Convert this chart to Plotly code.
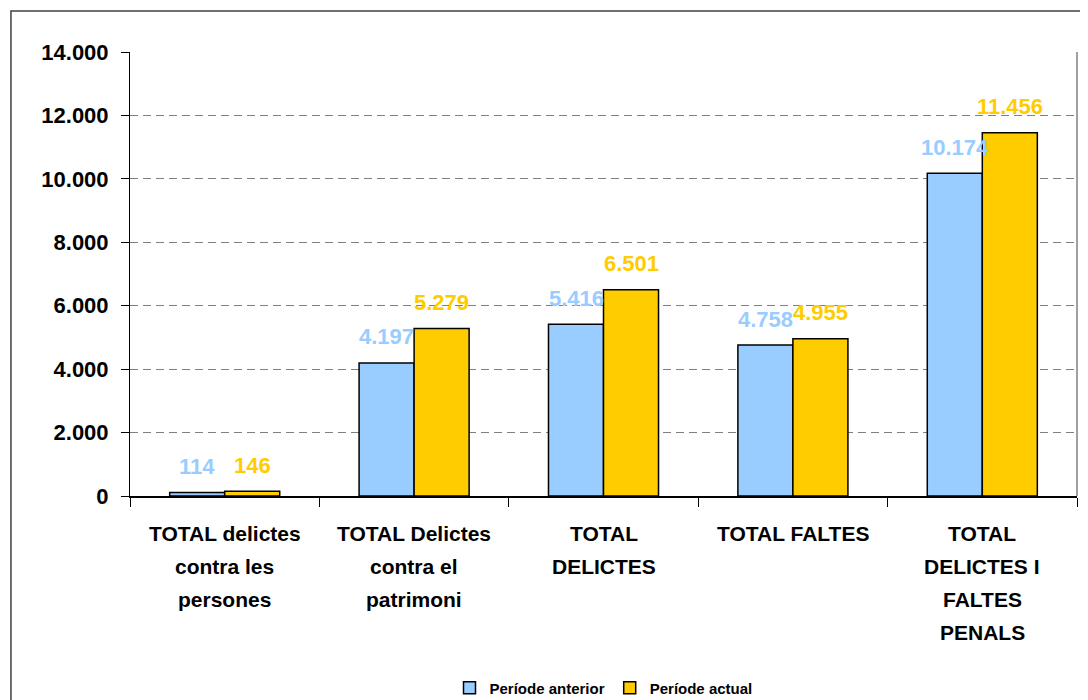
import plotly.graph_objects as go

categories = [
    "TOTAL delictes<br>contra les<br>persones",
    "TOTAL Delictes<br>contra el<br>patrimoni",
    "TOTAL<br>DELICTES",
    "TOTAL FALTES",
    "TOTAL<br>DELICTES I<br>FALTES<br>PENALS",
]
anterior = [114, 4197, 5416, 4758, 10174]
actual = [146, 5279, 6501, 4955, 11456]
series_names = ["Període anterior", "Període actual"]
y_ticks = [0, 2000, 4000, 6000, 8000, 10000, 12000, 14000]

BLUE = "#99CCFF"
GOLD = "#FFCC00"
FONT = "Liberation Sans, Arial, sans-serif"

fig = go.Figure()
for name, vals, col in [(series_names[0], anterior, BLUE), (series_names[1], actual, GOLD)]:
    fig.add_trace(go.Bar(
        name=name, x=categories, y=vals,
        marker=dict(color=col, line=dict(color="#000000", width=1.5)),
    ))

# data labels above bars
for vals, col, shift in [(anterior, BLUE, -27.5), (actual, GOLD, 27.5)]:
    for c, v in zip(categories, vals):
        fig.add_annotation(
            x=c, y=v, xref="x", yref="y", xshift=shift, yshift=26,
            text=f"{v:,}".replace(",", "."), showarrow=False,
            yanchor="middle", xanchor="center",
            font=dict(family=FONT, size=22, color=col, weight="bold"),
        )

# category labels (one text line per annotation for wider line spacing)
for c in categories:
    for i, line in enumerate(c.split("<br>")):
        fig.add_annotation(
            x=c, y=0, xref="x", yref="y", yshift=-(37 + 33 * i),
            text=line, showarrow=False, yanchor="middle", xanchor="center",
            font=dict(family=FONT, size=21, color="#000000", weight="bold"),
        )

# outer chart frame
fig.add_shape(type="rect", xref="paper", yref="paper",
              x0=-0.1257, x1=1.05, y0=-0.6, y1=1.0923,
              line=dict(color="#404040", width=1.5), layer="below")
# plot area right border
fig.add_shape(type="line", xref="paper", yref="paper",
              x0=1, x1=1, y0=0, y1=1,
              line=dict(color="#808080", width=1.5))

fig.update_layout(
    width=1080, height=692,
    margin=dict(l=122, r=11, t=44, b=204, autoexpand=False),
    paper_bgcolor="white", plot_bgcolor="white",
    barmode="group", bargap=0.419, bargroupgap=0,
    separators=",.",
    showlegend=True,
    legend=dict(
        orientation="h", x=0.5, xanchor="center",
        yref="container", y=0.0173, yanchor="middle",
        font=dict(family=FONT, size=15, color="#000000", weight="bold"),
        itemwidth=30, tracegroupgap=0,
    ),
    font=dict(family=FONT),
)
fig.update_yaxes(
    range=[0, 14000], tickvals=y_ticks, tickformat=",d",
    showgrid=True, gridcolor="#808080", griddash="8px,5px", gridwidth=1,
    showline=True, linecolor="#000000", linewidth=1,
    ticks="outside", ticklen=8, tickcolor="#000000",
    ticklabelstandoff=8, automargin=False,
    tickfont=dict(family=FONT, size=22, color="#000000", weight="bold"),
    zeroline=False,
)
fig.update_xaxes(
    showline=True, linecolor="#000000", linewidth=1.5,
    ticks="outside", tickson="boundaries", ticklen=9, tickcolor="#000000",
    showticklabels=False, automargin=False,
)

fig.write_html("out.html")
